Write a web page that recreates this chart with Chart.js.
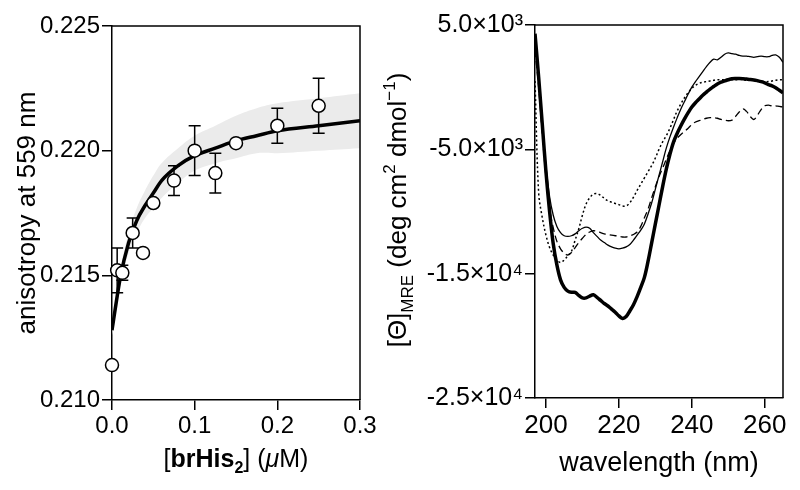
<!DOCTYPE html>
<html lang="en">
<head>
  <meta charset="UTF-8" />
  <title>Anisotropy titration and CD spectra</title>
  <script src="https://cdn.jsdelivr.net/npm/chart.js"></script>
  <style>
    html, body { margin: 0; padding: 0; background: #fff; }
    #wrap { position: relative; width: 800px; height: 490px; }
    #wrap canvas { position: absolute; left: 0; top: 0; }
  </style>
</head>
<body>
  <div id="wrap">
    <canvas id="anisoChart" width="800" height="490"></canvas>
    <canvas id="cdChart" width="800" height="490"></canvas>
  </div>

  <script>
    const FONT = "'Liberation Sans', Arial, Helvetica, sans-serif";

    // ---- left panel: anisotropy titration ----
    const concX = [0, 0.00625, 0.0125, 0.025, 0.0375, 0.05, 0.075, 0.1, 0.125, 0.15, 0.2, 0.25];
    const anisoY = [0.2114, 0.2152, 0.2151, 0.2167, 0.2159, 0.2179, 0.2188, 0.2200, 0.2191, 0.2203, 0.2210, 0.2218];
    const anisoErr = [0, 0.0009, 0.0003, 0.0006, 0, 0, 0.0006, 0.0010, 0.0008, 0, 0.0007, 0.0011];

    // fitted curve and its grey confidence band
    const fitX = [0, 0.01, 0.02, 0.03, 0.04, 0.05, 0.06, 0.08, 0.1, 0.125, 0.15, 0.175, 0.2, 0.25, 0.3];
    const fitY = [0.2128, 0.2149, 0.2163, 0.2172, 0.2178, 0.2183, 0.2188, 0.2194, 0.2198, 0.2201, 0.2204, 0.2206, 0.2208, 0.2210, 0.2212];
    const bandUpper = [0.2130, 0.2152, 0.2167, 0.2177, 0.2184, 0.2190, 0.2195, 0.2201, 0.2206, 0.2210, 0.2214, 0.2217, 0.2219, 0.2221, 0.2223];
    const bandLower = [0.2126, 0.2146, 0.2159, 0.2167, 0.2173, 0.2177, 0.2181, 0.2187, 0.2192, 0.2195, 0.2197, 0.2199, 0.2199, 0.2200, 0.2201];

    const concTicks = [0, 0.1, 0.2, 0.3];
    const concTickLabels = ['0.0', '0.1', '0.2', '0.3'];
    const anisoTicks = [0.210, 0.215, 0.220, 0.225];
    const anisoTickLabels = ['0.210', '0.215', '0.220', '0.225'];

    // ---- right panel: CD spectra ----
    const wavelengths = [
      197, 198, 199, 200, 201, 202, 203, 204, 205, 206,
      207, 208, 209, 210, 211, 212, 213, 214, 215, 216,
      217, 218, 219, 220, 221, 222, 223, 224, 225, 226,
      227, 228, 229, 230, 231, 232, 233, 234, 235, 236,
      237, 238, 239, 240, 241, 242, 243, 244, 245, 246,
      247, 248, 249, 250, 251, 252, 253, 254, 255, 256,
      257, 258, 259, 260, 261, 262, 263, 264, 265
    ];
    const thickSpectrum = [
      4300, 800, -3000, -6800, -10000, -12600, -14300, -15500, -16100, -16400,
      -16500, -16500, -16750, -16950, -16950, -16800, -16700, -16900, -17150, -17400,
      -17600, -17850, -18100, -18400, -18600, -18450, -18000, -17500, -16850, -16100,
      -15300, -14000, -12500, -11000, -9500, -8000, -6600, -5400, -4400, -3700,
      -3100, -2550, -2050, -1600, -1250, -950, -650, -400, -150, 50,
      250, 400, 500, 600, 680, 700, 700, 680, 650, 620,
      580, 520, 450, 350, 200, 100, -50, -250, -450
    ];
    const thinSpectrum = [
      3800, 500, -3000, -6300, -8800, -10300, -11200, -11700, -11950, -12000,
      -11950, -11800, -11550, -11350, -11250, -11350, -11700, -12000, -12300, -12500,
      -12700, -12850, -12950, -13000, -12950, -12850, -12650, -12300, -11900, -11500,
      -11000, -10200, -9300, -8200, -7100, -6000, -4900, -4000, -3200, -2450,
      -1750, -1150, -550, 0, 450, 850, 1250, 1650, 2000, 2250,
      2200, 2400, 2650, 2750, 2700, 2650, 2550, 2500, 2500, 2450,
      2400, 2450, 2500, 2450, 2450, 2550, 2600, 2400, 2000
    ];
    const dashedSpectrum = [
      3000, 0, -3800, -7200, -9800, -11300, -12400, -13000, -13350, -13500,
      -13300, -12900, -12500, -12150, -11850, -11650, -11550, -11600, -11700, -11800,
      -11850, -11900, -11950, -12000, -12050, -12050, -11950, -11850, -11650, -11200,
      -10500, -9800, -8900, -8000, -7200, -6500, -5800, -5100, -4500, -4100,
      -3800, -3550, -3300, -3000, -2800, -2700, -2600, -2500, -2450, -2450,
      -2500, -2600, -2650, -2700, -2650, -2350, -2000, -1750, -1950, -2350,
      -2600, -2250, -1800, -1500, -1450, -1500, -1500, -1550, -1600
    ];
    const dottedSpectrum = [
      500, -8500, -10500, -11900, -12900, -13500, -13900, -14100, -13900, -13550,
      -13200, -12300, -11400, -10300, -9400, -8900, -8600, -8550, -8700, -8950,
      -9150, -9250, -9350, -9450, -9550, -9550, -9300, -8850, -8300, -7800,
      -7300, -6800, -6300, -5700, -5000, -4400, -3900, -3300, -2600, -1900,
      -1350, -850, -450, -100, 150, 300, 400, 450, 500, 550,
      600, 600, 600, 650, 600, 600, 650, 600, 550, 550,
      550, 500, 500, 450, 450, 500, 550, 600, 600
    ];

    const wlTicks = [200, 220, 240, 260];
    const wlTickLabels = ['200', '220', '240', '260'];
    const cdTicks = [-25000, -15000, -5000, 5000];
    const cdTickLabels = ['-2.5×10⁴', '-1.5×10⁴', '-5.0×10³', '5.0×10³'];

    // draws a line of text made of parts with their own style (bold, italic, sub, sup)
    function drawRich(ctx, parts, cx, cy, rotate, size) {
      ctx.save();
      ctx.translate(cx, cy);
      if (rotate) ctx.rotate(-Math.PI / 2);
      ctx.fillStyle = '#000';
      ctx.textAlign = 'left';
      ctx.textBaseline = 'alphabetic';
      const fontOf = p => (p.italic ? 'italic ' : '') + (p.bold ? 'bold ' : '') +
        ((p.sub || p.sup) ? Math.round(size * 0.65) : size) + 'px ' + FONT;
      let total = 0;
      parts.forEach(p => { ctx.font = fontOf(p); total += ctx.measureText(p.text).width; });
      let x = -total / 2;
      const base = size * 0.36;
      parts.forEach(p => {
        ctx.font = fontOf(p);
        let dy = base;
        if (p.sub) dy += size * 0.25;
        if (p.sup) dy -= size * 0.42;
        ctx.fillText(p.text, x, dy);
        x += ctx.measureText(p.text).width;
      });
      ctx.restore();
    }

    // top and right edges of the plot box
    const frame = {
      id: 'frame',
      afterDraw(chart) {
        const { ctx, chartArea: a } = chart;
        ctx.save();
        ctx.strokeStyle = '#000';
        ctx.lineWidth = 1.5;
        ctx.beginPath();
        ctx.moveTo(a.left, a.top);
        ctx.lineTo(a.right, a.top);
        ctx.lineTo(a.right, a.bottom);
        ctx.stroke();
        ctx.restore();
      }
    };

    const errorBars = {
      id: 'errorBars',
      beforeDatasetDraw(chart, args) {
        if (args.index !== 3) return;
        const { ctx, scales: { x, y } } = chart;
        ctx.save();
        ctx.strokeStyle = '#000';
        ctx.lineWidth = 1.5;
        concX.forEach((c, i) => {
          const e = anisoErr[i];
          if (!e) return;
          const px = x.getPixelForValue(c);
          const top = y.getPixelForValue(anisoY[i] + e);
          const bot = y.getPixelForValue(anisoY[i] - e);
          ctx.beginPath();
          ctx.moveTo(px, top); ctx.lineTo(px, bot);
          ctx.moveTo(px - 6, top); ctx.lineTo(px + 6, top);
          ctx.moveTo(px - 6, bot); ctx.lineTo(px + 6, bot);
          ctx.stroke();
        });
        ctx.restore();
      }
    };

    const anisoTitles = {
      id: 'anisoTitles',
      afterDraw(chart) {
        const { ctx, chartArea: a } = chart;
        drawRich(ctx, [{ text: 'anisotropy at 559 nm' }], 26, (a.top + a.bottom) / 2, true, 26);
        drawRich(ctx, [
          { text: '[' },
          { text: 'brHis', bold: true },
          { text: '2', bold: true, sub: true },
          { text: '] (' },
          { text: 'μ', italic: true },
          { text: 'M)' }
        ], (a.left + a.right) / 2, 458, false, 25);
      }
    };

    const cdTitles = {
      id: 'cdTitles',
      afterDraw(chart) {
        const { ctx, chartArea: a } = chart;
        drawRich(ctx, [
          { text: '[Θ]' },
          { text: 'MRE', sub: true },
          { text: ' (deg cm' },
          { text: '2', sup: true },
          { text: ' dmol' },
          { text: '−1', sup: true },
          { text: ')' }
        ], 397, 210, true, 26);
        drawRich(ctx, [{ text: 'wavelength (nm)' }], (a.left + a.right) / 2, 461, false, 27);
      }
    };

    function axisStyle(extra) {
      return Object.assign({
        type: 'linear',
        grid: { display: true, drawOnChartArea: false, drawTicks: true, tickLength: 10, color: '#000', lineWidth: 1.5 },
        border: { display: true, color: '#000', width: 1.5 }
      }, extra);
    }

    // left chart
    new Chart(document.getElementById('anisoChart'), {
      type: 'line',
      data: {
        datasets: [
          {
            label: 'band upper',
            data: fitX.map((x, i) => ({ x, y: bandUpper[i] })),
            borderWidth: 0, pointRadius: 0, tension: 0.4,
            fill: '+1', backgroundColor: '#ebebeb', order: 4
          },
          {
            label: 'band lower',
            data: fitX.map((x, i) => ({ x, y: bandLower[i] })),
            borderWidth: 0, pointRadius: 0, tension: 0.4, fill: false, order: 3
          },
          {
            label: 'fit',
            data: fitX.map((x, i) => ({ x, y: fitY[i] })),
            borderColor: '#000', borderWidth: 3.5, pointRadius: 0,
            cubicInterpolationMode: 'monotone', fill: false, order: 2
          },
          {
            label: 'anisotropy',
            data: concX.map((x, i) => ({ x, y: anisoY[i] })),
            showLine: false, clip: false,
            pointRadius: 6.5, pointBackgroundColor: '#fff', pointBorderColor: '#000', pointBorderWidth: 1.5,
            order: 1
          }
        ]
      },
      options: {
        responsive: false,
        animation: false,
        events: [],
        layout: { padding: { top: 26, right: 440, left: 0, bottom: 0 } },
        plugins: { legend: { display: false }, tooltip: { enabled: false } },
        scales: {
          x: axisStyle({
            min: 0, max: 0.3,
            afterBuildTicks: s => { s.ticks = concTicks.map(v => ({ value: v })); },
            afterFit: s => { s.height = 90; },
            ticks: {
              color: '#000', font: { family: FONT, size: 24 }, padding: 2, maxRotation: 0,
              callback: v => concTickLabels[concTicks.indexOf(v)]
            }
          }),
          y: axisStyle({
            min: 0.210, max: 0.225,
            afterBuildTicks: s => { s.ticks = anisoTicks.map(v => ({ value: v })); },
            afterFit: s => { s.width = 112; },
            ticks: {
              color: '#000', font: { family: FONT, size: 24 }, padding: 2,
              callback: v => anisoTickLabels[anisoTicks.findIndex(t => Math.abs(t - v) < 1e-9)]
            }
          })
        }
      },
      plugins: [errorBars, frame, anisoTitles]
    });

    // right chart
    const spectrumStyles = [
      { label: 'thick', values: thickSpectrum, width: 3.5, dash: [], order: 1 },
      { label: 'thin', values: thinSpectrum, width: 1.3, dash: [], order: 2 },
      { label: 'dashed', values: dashedSpectrum, width: 1.3, dash: [7, 4], order: 3 },
      { label: 'dotted', values: dottedSpectrum, width: 1.5, dash: [2, 2.5], order: 4 }
    ];

    new Chart(document.getElementById('cdChart'), {
      type: 'line',
      data: {
        datasets: spectrumStyles.map(s => ({
          label: s.label,
          data: wavelengths.map((w, i) => ({ x: w, y: s.values[i] })),
          borderColor: '#000',
          borderWidth: s.width,
          borderDash: s.dash,
          pointRadius: 0,
          tension: 0.35,
          fill: false,
          order: s.order
        }))
      },
      options: {
        responsive: false,
        animation: false,
        events: [],
        layout: { padding: { top: 25, right: 17, left: 400, bottom: 0 } },
        plugins: { legend: { display: false }, tooltip: { enabled: false } },
        scales: {
          x: axisStyle({
            min: 197, max: 265,
            afterBuildTicks: s => { s.ticks = wlTicks.map(v => ({ value: v })); },
            afterFit: s => { s.height = 92; },
            ticks: {
              color: '#000', font: { family: FONT, size: 26 }, padding: 2, maxRotation: 0,
              callback: v => wlTickLabels[wlTicks.indexOf(v)]
            }
          }),
          y: axisStyle({
            min: -25000, max: 5000,
            afterBuildTicks: s => { s.ticks = cdTicks.map(v => ({ value: v })); },
            afterFit: s => { s.width = 135; },
            ticks: {
              color: '#000', font: { family: FONT, size: 25 }, padding: 2,
              callback: v => cdTickLabels[cdTicks.indexOf(v)]
            }
          })
        }
      },
      plugins: [frame, cdTitles]
    });
  </script>
</body>
</html>
